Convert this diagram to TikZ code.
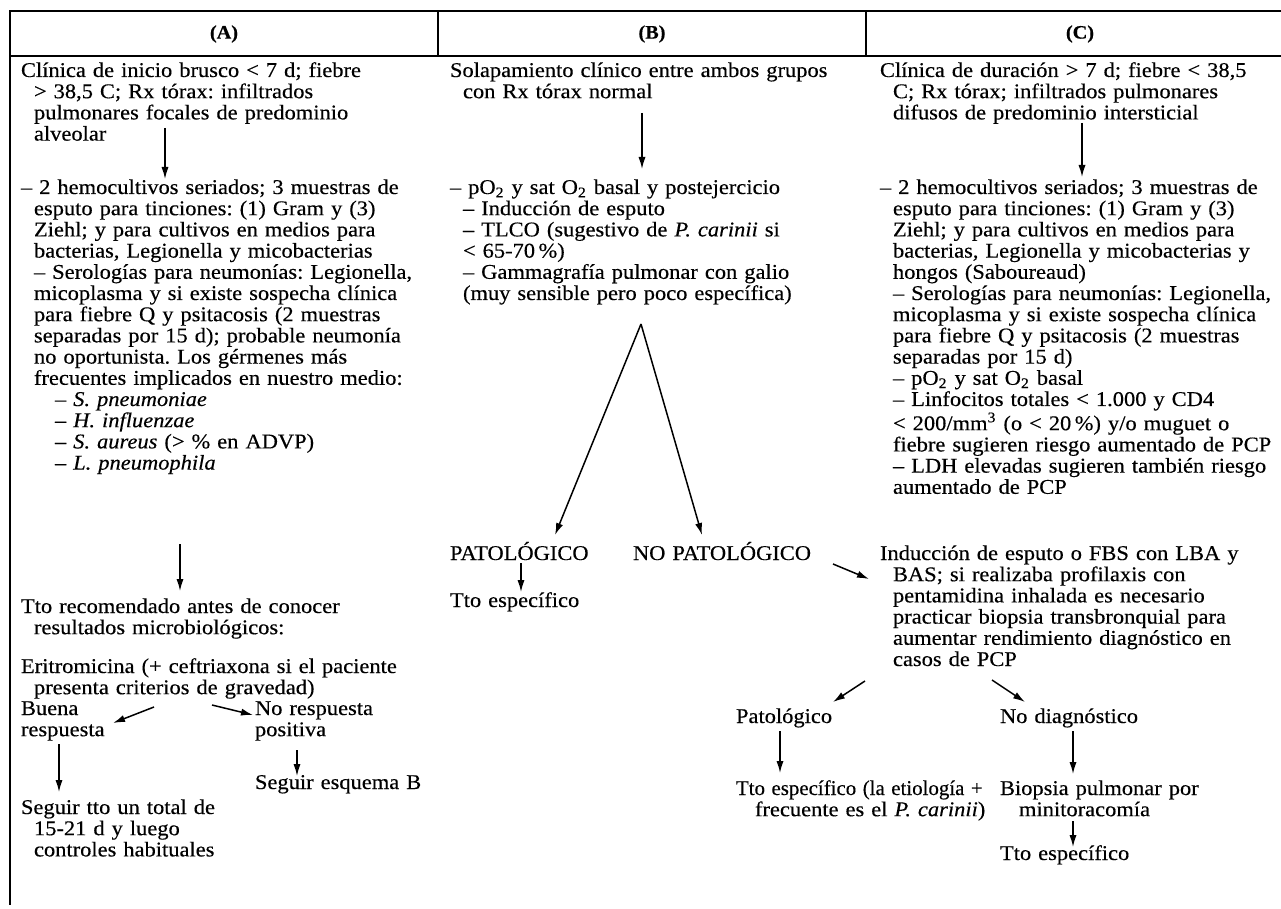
\documentclass[tikz,border=0pt]{standalone}
\usepackage{fontspec}
\usepackage{graphicx}
\setmainfont{Liberation Serif}[FakeStretch=1.07,FakeBold=0.35]
\usetikzlibrary{arrows.meta}
\newcommand\indA{\hspace*{6.5pt}}
\newcommand\indB{\hspace*{17pt}}
\frenchspacing
\begin{document}
\begin{tikzpicture}[x=0.5pt,y=-0.5pt,
  txt/.style={anchor=base west,inner sep=0pt,outer sep=0pt,align=left,text width=215pt,font=\fontsize{10.5}{10.6}\selectfont\frenchspacing},
  hdr/.style={inner sep=0pt,font=\fontsize{9.5}{10}\selectfont\bfseries},
  arr/.style={line width=0.75pt,-{Latex[length=6pt,width=3.6pt]}},
  rulel/.style={line width=1pt},
  sepl/.style={line width=0.8pt}]
\useasboundingbox (0,0) rectangle (1281,909);
% table frame
\coordinate (tl) at (10,11);
\coordinate (tr) at (1281,11);
\coordinate (hl) at (10,56);
\coordinate (hr) at (1281,56);
\coordinate (bl) at (10,905);
\coordinate (s1t) at (438,11);
\coordinate (s1b) at (438,56);
\coordinate (s2t) at (866,11);
\coordinate (s2b) at (866,56);
\draw[rulel] (tr) -- (tl) -- (bl);
\draw[rulel] (hl) -- (hr);
\draw[sepl] (s1t) -- (s1b);
\draw[sepl] (s2t) -- (s2b);
\node[hdr] (hA) at (224,34) {(A)};
\node[hdr] (hB) at (652,34) {(B)};
\node[hdr] (hC) at (1080,34) {(C)};

% ---------- column A ----------
\node[txt] (a1) at (21,77) {Clínica de inicio brusco < 7 d; fiebre\\
\indA> 38,5 C; Rx tórax: infiltrados\\
\indA pulmonares focales de predominio\\
\indA alveolar};
\node[txt] (a2) at (21,194) {– 2 hemocultivos seriados; 3 muestras de\\
\indA esputo para tinciones: (1) Gram y (3)\\
\indA Ziehl; y para cultivos en medios para\\
\indA bacterias, Legionella y micobacterias\\
\indA – Serologías para neumonías: Legionella,\\
\indA micoplasma y si existe sospecha clínica\\
\indA para fiebre Q y psitacosis (2 muestras\\
\indA separadas por 15 d); probable neumonía\\
\indA no oportunista. Los gérmenes más\\
\indA frecuentes implicados en nuestro medio:\\
\indB – \textit{S. pneumoniae}\\
\indB – \textit{H. influenzae}\\
\indB – \textit{S. aureus} (> \% en ADVP)\\
\indB – \textit{L. pneumophila}};
\node[txt] (a3) at (21,613) {Tto recomendado antes de conocer\\
\indA resultados microbiológicos:};
\node[txt] (a4) at (21,673) {Eritromicina (+ ceftriaxona si el paciente\\
\indA presenta criterios de gravedad)};
\node[txt] (a5) at (21,715) {Buena\\respuesta};
\node[txt] (a6) at (255,715) {No respuesta\\positiva};
\node[txt] (a7) at (21,814) {Seguir tto un total de\\
\indA 15-21 d y luego\\
\indA controles habituales};
\node[txt] (a8) at (255,789) {Seguir esquema B};

\coordinate (a1s) at (165,128);
\coordinate (a1e) at (165,179);
\coordinate (a2s) at (180,544);
\coordinate (a2e) at (180,591);
\coordinate (a4l) at (154,707);
\coordinate (a5e) at (113,723);
\coordinate (a4r) at (212,705);
\coordinate (a6e) at (253,715);
\coordinate (a5s) at (59,744);
\coordinate (a7e) at (59,792);
\coordinate (a6s) at (297,750);
\coordinate (a8e) at (297,776);
\draw[arr] (a1s) -- (a1e);
\draw[arr] (a2s) -- (a2e);
\draw[arr] (a4l) -- (a5e);
\draw[arr] (a4r) -- (a6e);
\draw[arr] (a5s) -- (a7e);
\draw[arr] (a6s) -- (a8e);

% ---------- column B ----------
\node[txt] (b1) at (450,77) {Solapamiento clínico entre ambos grupos\\
\indA con Rx tórax normal};
\node[txt] (b2) at (450,194) {– pO\textsubscript{2} y sat O\textsubscript{2} basal y postejercicio\\
\indA – Inducción de esputo\\
\indA – TLCO (sugestivo de \textit{P. carinii} si\\
\indA < 65-70\,\%)\\
\indA – Gammagrafía pulmonar con galio\\
\indA (muy sensible pero poco específica)};
\node[txt] (b3) at (450,560) {PATOLÓGICO};
\node[txt] (b4) at (633,560) {NO PATOLÓGICO};
\node[txt] (b5) at (450,607) {Tto específico};

\coordinate (b1s) at (642,113);
\coordinate (b1e) at (642,169);
\coordinate (apex) at (641,324);
\coordinate (b3e) at (555,535);
\coordinate (b4e) at (702,535);
\coordinate (b3s) at (521,563);
\coordinate (b5e) at (521,592);
\coordinate (b4s) at (833,564);
\coordinate (c3e) at (869,579);
\draw[arr] (b1s) -- (b1e);
\draw[arr] (apex) -- (b3e);
\draw[arr] (apex) -- (b4e);
\draw[arr] (b3s) -- (b5e);
\draw[arr] (b4s) -- (c3e);

% ---------- column C ----------
\node[txt] (c1) at (880,77) {Clínica de duración > 7 d; fiebre < 38,5\\
\indA C; Rx tórax; infiltrados pulmonares\\
\indA difusos de predominio intersticial};
\node[txt] (c2) at (880,194) {– 2 hemocultivos seriados; 3 muestras de\\
\indA esputo para tinciones: (1) Gram y (3)\\
\indA Ziehl; y para cultivos en medios para\\
\indA bacterias, Legionella y micobacterias y\\
\indA hongos (Saboureaud)\\
\indA – Serologías para neumonías: Legionella,\\
\indA micoplasma y si existe sospecha clínica\\
\indA para fiebre Q y psitacosis (2 muestras\\
\indA separadas por 15 d)\\
\indA – pO\textsubscript{2} y sat O\textsubscript{2} basal\\
\indA – Linfocitos totales < 1.000 y CD4\\
\indA < 200/mm\textsuperscript{3} (o < 20\,\%) y/o muguet o\\
\indA fiebre sugieren riesgo aumentado de PCP\\
\indA – LDH elevadas sugieren también riesgo\\
\indA aumentado de PCP};
\node[txt] (c3) at (880,560) {Inducción de esputo o FBS con LBA y\\
\indA BAS; si realizaba profilaxis con\\
\indA pentamidina inhalada es necesario\\
\indA practicar biopsia transbronquial para\\
\indA aumentar rendimiento diagnóstico en\\
\indA casos de PCP};
\node[txt] (c4) at (736,723) {Patológico};
\node[txt] (c5) at (1000,723) {No diagnóstico};
\node[txt] (c6) at (736,795) {\scalebox{0.93}[1]{Tto específico (la etiología +}\\
\hspace*{9.5pt}frecuente es el \textit{P. carinii})};
\node[txt] (c7) at (1000,795) {Biopsia pulmonar por\\
\hspace*{9.5pt}minitoracomía};
\node[txt] (c8) at (1000,860) {Tto específico};

\coordinate (c1s) at (1082,123);
\coordinate (c1e) at (1082,177);
\coordinate (c3l) at (865,681);
\coordinate (c4e) at (833,702);
\coordinate (c3r) at (992,680);
\coordinate (c5e) at (1025,702);
\coordinate (c4s) at (780,731);
\coordinate (c6e) at (780,773);
\coordinate (c5s) at (1073,731);
\coordinate (c7e) at (1073,774);
\coordinate (c7s) at (1073,821);
\coordinate (c8e) at (1073,847);
\draw[arr] (c1s) -- (c1e);
\draw[arr] (c3l) -- (c4e);
\draw[arr] (c3r) -- (c5e);
\draw[arr] (c4s) -- (c6e);
\draw[arr] (c5s) -- (c7e);
\draw[arr] (c7s) -- (c8e);
\end{tikzpicture}
\end{document}
